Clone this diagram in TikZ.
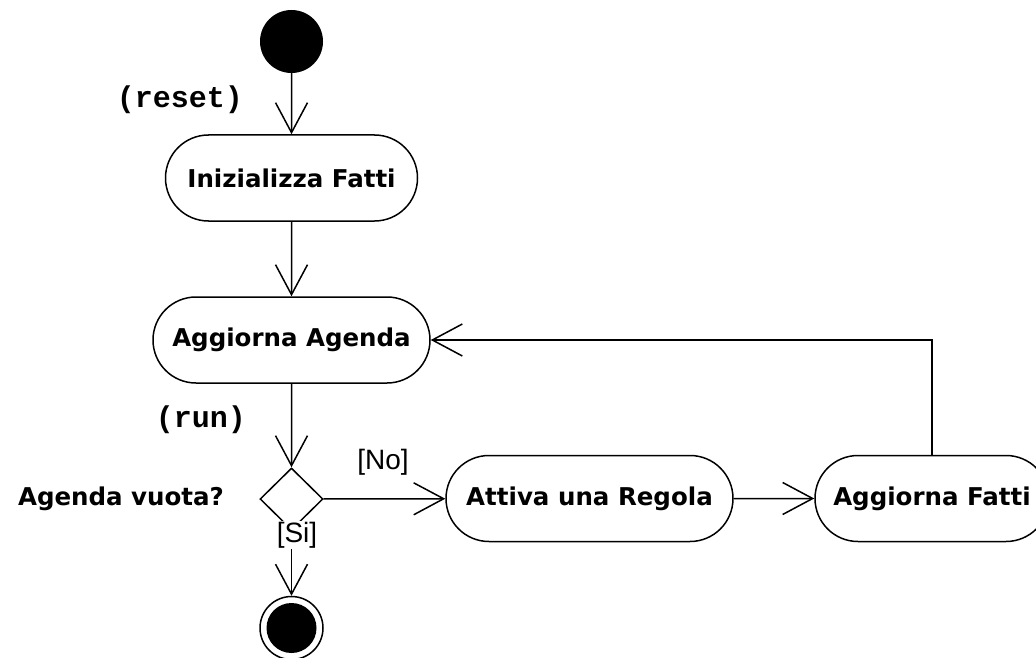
\documentclass[tikz,border=0pt]{standalone}
\usepackage{fontspec}
\setmainfont{DejaVu Sans}
\newfontfamily\labfont{Liberation Sans}
\newfontfamily\monofont{Liberation Mono}
\usetikzlibrary{arrows.meta,shapes.geometric,shapes.misc}
\begin{document}
\begin{tikzpicture}[x=1pt,y=-1pt,
  act/.style={draw, line width=1.5pt, rounded rectangle, minimum height=86pt, inner sep=0pt,
    font=\fontsize{24.5}{28}\selectfont\bfseries},
  flow/.style={draw, line width=1.5pt, -{Straight Barb[length=30pt,width=32pt,line width=1.5pt]}},
  monolab/.style={font=\monofont\fontsize{30}{30}\selectfont\bfseries},
  guard/.style={font=\labfont\fontsize{28}{28}\selectfont, inner sep=1pt}
]
\useasboundingbox (0,0) rectangle (1036,658);
\node[circle, fill, minimum size=63pt, inner sep=0pt] (start) at (291.5,41.5) {};
\node[act, minimum width=252pt] (init) at (291.5,178) {Inizializza Fatti};
\node[act, minimum width=277pt] (agenda) at (291.5,340) {Aggiorna Agenda};
\node[diamond, draw, line width=1.5pt, minimum width=63pt, minimum height=62pt, inner sep=0pt] (dec) at (291.5,499) {};
\node[act, minimum width=287pt] (attiva) at (589.5,498.5) {Attiva una Regola};
\node[act, minimum width=234pt] (fatti) at (932,498.5) {Aggiorna Fatti};
\node[circle, draw, line width=1.5pt, minimum size=63pt, inner sep=0pt] (end) at (291.5,628) {};
\node[circle, fill, minimum size=50pt, inner sep=0pt] (endin) at (end) {};

\draw[flow] (start) -- (init);
\draw[flow] (init) -- (agenda);
\draw[flow] (agenda) -- (dec);
\draw[flow] (dec) -- (attiva);
\draw[flow] (attiva) -- (fatti);
\draw[flow] (dec) -- (end);
\draw[flow] (fatti.north) |- (agenda.east);

\node[monolab] (reset) at (180,100) {(reset)};
\node[monolab] (run) at (201,420) {(run)};
\node[font=\fontsize{24.5}{28}\selectfont\bfseries] (q) at (121,499) {Agenda vuota?};
\node[guard] (no) at (383,462) {[No]};
\node[guard, fill=white] (si) at (297,535) {[Si]};
\end{tikzpicture}
\end{document}
